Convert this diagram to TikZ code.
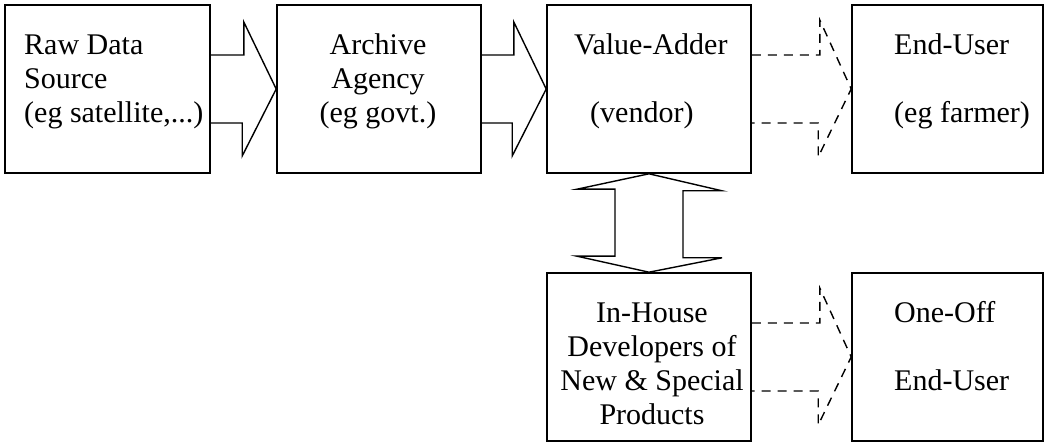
\documentclass[tikz,border=0pt]{standalone}
\usepackage{fontspec}
\setmainfont{Liberation Serif}
\begin{document}
\begin{tikzpicture}[x=1pt,y=-1pt,
  box/.style={draw,line width=1.6pt,inner sep=0pt,minimum height=168pt,minimum width=#1},
  txt/.style={inner sep=0pt,font=\fontsize{30}{34}\selectfont},
  blockarrow/.style={draw,line width=1.4pt,line join=miter},
  dasharrow/.style={draw,line width=1.4pt,dash pattern=on 9pt off 7pt},
]
\useasboundingbox (0,0) rectangle (1045,443);
% boxes
\node[box=205pt] (b1) at (107.5,89) {};
\node[box=204pt] (b2) at (379,89) {};
\node[box=204pt] (b3) at (649,89) {};
\node[box=191pt] (b4) at (947.5,89) {};
\node[box=204pt] (b5) at (649,357) {};
\node[box=191pt] (b6) at (947.5,357) {};
% texts
\node[txt,anchor=base west] (t1) at (24,55) {\begin{tabular}[t]{@{}l@{}}Raw Data\\Source\\(eg satellite,...)\end{tabular}};
\node[txt,anchor=base] (t2) at (378,55) {\begin{tabular}[t]{@{}c@{}}Archive\\Agency\\(eg govt.)\end{tabular}};
\node[txt,anchor=base west] (t3) at (574,55) {\begin{tabular}[t]{@{}l@{}}Value-Adder\\ \\\hspace*{16pt}(vendor)\end{tabular}};
\node[txt,anchor=base west] (t4) at (894,55) {\begin{tabular}[t]{@{}l@{}}End-User\\ \\(eg farmer)\end{tabular}};
\node[txt,anchor=base] (t5) at (652,323) {\begin{tabular}[t]{@{}c@{}}In-House\\Developers of\\New \& Special\\Products\end{tabular}};
\node[txt,anchor=base west] (t6) at (894,323) {\begin{tabular}[t]{@{}l@{}}One-Off\\ \\End-User\end{tabular}};
% solid block arrows
\draw[blockarrow] ([yshift=34pt]b1.east) -- ++(33,0) -- ++(0,-33) -- (b2.west)
  -- ([xshift=-34pt,yshift=-67pt]b2.west) -- ++(0,-33) -- ([yshift=-34pt]b1.east);
\draw[blockarrow] ([yshift=34pt]b2.east) -- ++(32,0) -- ++(0,-33) -- (b3.west)
  -- ([xshift=-34pt,yshift=-67pt]b3.west) -- ++(0,-33) -- ([yshift=-34pt]b2.east);
% dashed arrows
\draw[dasharrow] ([yshift=34pt]b3.east) -- ++(68,0) -- ++(0,-35) -- (b4.west)
  -- ([xshift=-33pt,yshift=-68pt]b4.west) -- ++(0,-34) -- ([yshift=-34pt]b3.east);
\draw[dasharrow] ([yshift=34pt]b5.east) -- ++(68,0) -- ++(0,-35) -- (b6.west)
  -- ([xshift=-33pt,yshift=-68pt]b6.west) -- ++(0,-34) -- ([yshift=-34pt]b5.east);
% double vertical arrow
\draw[blockarrow] (b3.south) -- ++(73,17) -- ++(-39,0) -- ++(0,67) -- ++(39,0)
  -- (b5.north) -- ++(-72,-16) -- ++(38,0) -- ++(0,-67) -- ++(-38,0) -- cycle;
\end{tikzpicture}
\end{document}
